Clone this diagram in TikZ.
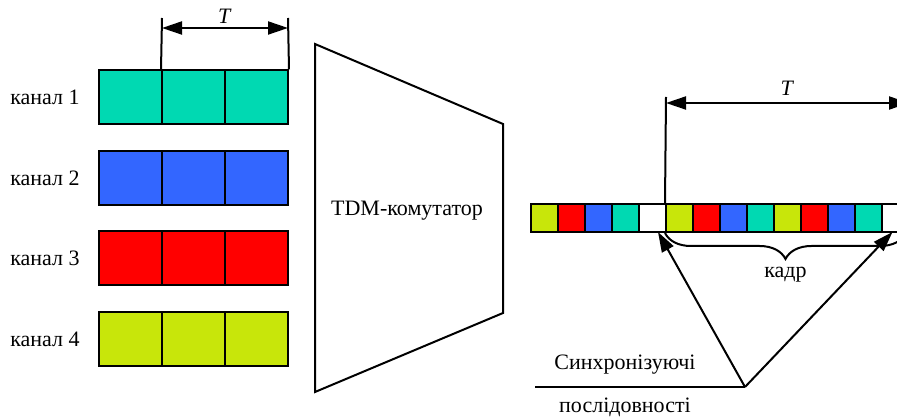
\documentclass[tikz,border=0pt]{standalone}
\usepackage{fontspec}
\setmainfont{Liberation Serif}
\usepackage{tikz}
\usetikzlibrary{arrows.meta}
\usetikzlibrary{decorations.pathreplacing}
\usetikzlibrary{positioning}
\definecolor{chteal}{RGB}{0,217,178}
\definecolor{chblue}{RGB}{51,102,255}
\definecolor{chred}{RGB}{255,0,0}
\definecolor{chlime}{RGB}{200,230,10}

\begin{document}
\begin{tikzpicture}[x=1pt,y=-1pt,line width=2pt,
    font=\fontsize{22}{26}\selectfont,
    dimarrow/.style={{Triangle[length=20pt,width=13pt]}-{Triangle[length=20pt,width=13pt]}},
    syncarrow/.style={-{Triangle[length=20pt,width=13pt]}}]
    \useasboundingbox (0,0) rectangle (897,419);
    \begin{scope}[inner sep=0pt]
      \tikzstyle{every node}=[draw,minimum width=63pt,minimum height=54pt]
      \node[fill=chteal] (c11) at (130.5,97.5)  {};
      \node[fill=chteal] (c12) at (193.5,97.5)  {};
      \node[fill=chteal] (c13) at (256.5,97.5)  {};
      \node[fill=chblue] (c21) at (130.5,178)   {};
      \node[fill=chblue] (c22) at (193.5,178)   {};
      \node[fill=chblue] (c23) at (256.5,178)   {};
      \node[fill=chred]  (c31) at (130.5,258.5) {};
      \node[fill=chred]  (c32) at (193.5,258.5) {};
      \node[fill=chred]  (c33) at (256.5,258.5) {};
      \node[fill=chlime] (c41) at (130.5,339)   {};
      \node[fill=chlime] (c42) at (193.5,339)   {};
      \node[fill=chlime] (c43) at (256.5,339)   {};
    \end{scope}
    \node (k1) at (45,97.5)  {канал 1};
    \node (k2) at (45,178)   {канал 2};
    \node (k3) at (45,258.5) {канал 3};
    \node (k4) at (45,339)   {канал 4};
    % period of one channel
    \coordinate (a1) at (162,18);
    \coordinate (a2) at (288,18);
    \draw (c12.north west) -- (a1);
    \draw (c13.north east) -- (a2);
    \draw[dimarrow] ([yshift=-10pt]a1) -- node[above=0pt] {\textit{T}} ([yshift=-10pt]a2);
    % commutator
    \draw (315,44) -- (503,124) -- (503,313) -- (315,392) -- cycle;
    \node (tdm) at (407,211) {TDM-комутатор};
    % multiplexed stream
    \begin{scope}[inner sep=0pt]
      \tikzstyle{every node}=[draw,minimum width=27pt,minimum height=28pt]
      \node[fill=chlime] (s0)  at (544.5,218) {};
      \node[fill=chred]  (s1)  at (571.5,218) {};
      \node[fill=chblue] (s2)  at (598.5,218) {};
      \node[fill=chteal] (s3)  at (625.5,218) {};
      \node[fill=white]  (s4)  at (652.5,218) {};
      \node[fill=chlime] (s5)  at (679.5,218) {};
      \node[fill=chred]  (s6)  at (706.5,218) {};
      \node[fill=chblue] (s7)  at (733.5,218) {};
      \node[fill=chteal] (s8)  at (760.5,218) {};
      \node[fill=chlime] (s9)  at (787.5,218) {};
      \node[fill=chred]  (s10) at (814.5,218) {};
      \node[fill=chblue] (s11) at (841.5,218) {};
      \node[fill=chteal] (s12) at (868.5,218) {};
      \node[fill=white]  (s13) at (895.5,218) {};
    \end{scope}
    \coordinate (b1) at (666,97);
    \coordinate (b2) at (909,97);
    \draw (s5.north west) -- (b1);
    \draw[dimarrow] ([yshift=-6pt]b1) -- node[above=3pt] {\textit{T}} ([yshift=-6pt]b2);
    \draw[decorate,decoration={brace,amplitude=26pt,mirror,aspect=0.5}] (s5.south west) -- ([xshift=-4pt]s13.south east)
      node[midway,below=30pt] (kadr) {кадр};
    % sync sequences
    \coordinate (sy) at (745,387);
    \coordinate (syl) at (535,387);
    \draw (syl) -- (sy);
    \node (syt) at (625,365) {Синхронізуючі};
    \node (syb) at (625,407) {послідовності};
    \draw[syncarrow] (sy) -- ([xshift=-9pt,yshift=1pt]s4.south east);
    \draw[syncarrow] (sy) -- ([xshift=-3pt,yshift=1pt]s13.south);
\end{tikzpicture}
\end{document}
